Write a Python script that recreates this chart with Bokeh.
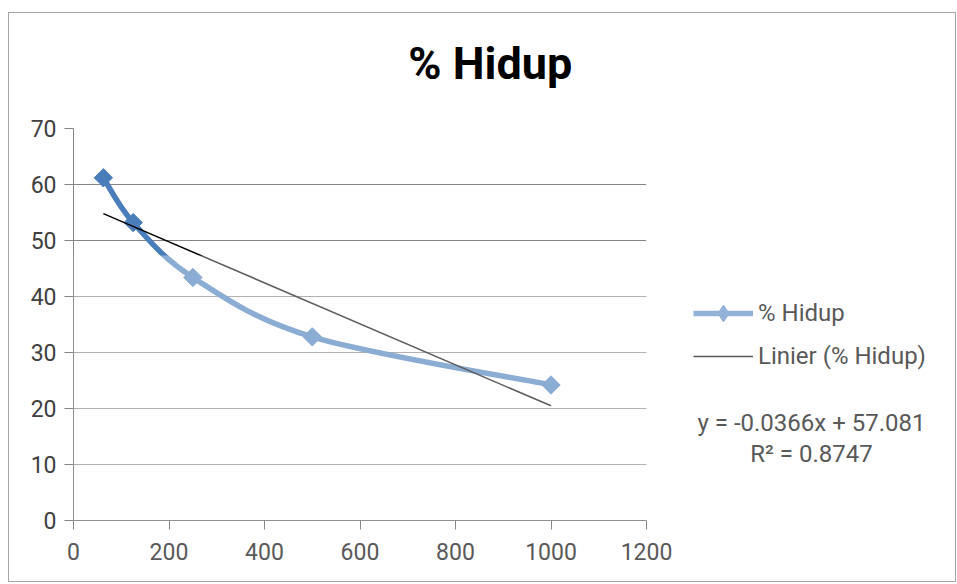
import numpy as np
from bokeh.plotting import figure
from bokeh.layouts import row, column
from bokeh.models import Label, Legend, LegendItem, BoxAnnotation, FixedTicker
from bokeh.embed import file_html
from bokeh.resources import INLINE

# ---- data ----
concentration = [62.5, 125, 250, 500, 1000]
hidup = [61.2, 53.2, 43.4, 32.8, 24.2]
trend_slope = -0.0366
trend_intercept = 57.081
trend_r2 = 0.8747
series_name = "% Hidup"
trend_name = "Linier (% Hidup)"
chart_title = "% Hidup"
x_ticks = [0, 200, 400, 600, 800, 1000, 1200]
y_ticks = [0, 10, 20, 30, 40, 50, 60, 70]

FONT = "Roboto"
BLUE = "#4a7ebb"
BLUE_LIGHT = "#93b2d7"
GRID = "#868686"
TEXT_GREY = "#595959"


def blank(fig):
    fig.grid.visible = False
    fig.outline_line_color = None
    fig.background_fill_color = "white"
    fig.border_fill_color = "white"


# ---------------- title strip ----------------
t = figure(width=946, height=100, x_range=(0, 1200), y_range=(0, 100),
           output_backend="svg", toolbar_location=None,
           x_axis_type=None, y_axis_type=None,
           min_border=0, min_border_left=64, min_border_right=309,
           min_border_top=0, min_border_bottom=0)
blank(t)
t.add_layout(Label(x=873, y=50, text=chart_title, text_align="center",
                   text_baseline="alphabetic", text_font=FONT, text_font_size="45px",
                   text_font_style="bold", text_color="#000000"))

# ---------------- main chart ----------------
p = figure(width=671, height=468, x_range=(0, 1200), y_range=(0, 70),
           output_backend="svg", toolbar_location=None,
           min_border_left=64, min_border_right=34,
           min_border_top=15, min_border_bottom=61)
p.outline_line_color = None
p.background_fill_color = "white"
p.border_fill_color = "white"

for ax in (p.xaxis[0], p.yaxis[0]):
    ax.axis_line_color = GRID
    ax.major_tick_line_color = GRID
    ax.minor_tick_line_color = None
    ax.major_tick_in = 0
    ax.major_tick_out = 9
    ax.major_label_text_font = FONT
    ax.major_label_text_font_size = "23px"
p.xaxis[0].major_label_text_color = TEXT_GREY
p.yaxis[0].major_label_text_color = "#404040"
p.xaxis[0].ticker = FixedTicker(ticks=x_ticks)
p.yaxis[0].ticker = FixedTicker(ticks=y_ticks)
p.xaxis[0].major_label_standoff = 13
p.yaxis[0].major_label_standoff = 8
p.xgrid.grid_line_color = None
p.ygrid.ticker = FixedTicker(ticks=y_ticks)
p.ygrid.grid_line_color = GRID
p.ygrid.grid_line_width = 1

# smooth series curve (Bezier segments through the points, Excel-like smoothing)
px = np.array(concentration, dtype=float)
py = np.array(hidup, dtype=float)
n = len(px)
ex = np.concatenate([[px[0]], px, [px[-1]]])
ey = np.concatenate([[py[0]], py, [py[-1]]])
cx0 = px[:-1] + (ex[2:n + 1] - ex[0:n - 1]) / 6.0
cy0 = py[:-1] + (ey[2:n + 1] - ey[0:n - 1]) / 6.0
cx1 = px[1:] - (ex[3:n + 2] - ex[1:n]) / 6.0
cy1 = py[1:] - (ey[3:n + 2] - ey[1:n]) / 6.0
p.bezier(x0=px[:-1], y0=py[:-1], x1=px[1:], y1=py[1:],
         cx0=cx0, cy0=cy0, cx1=cx1, cy1=cy1,
         line_color=BLUE, line_width=5.5)
p.scatter(concentration, hidup, marker="square", size=13, angle=np.pi / 4,
          fill_color=BLUE, line_color=BLUE)

# linear trendline from the fitted coefficients
tx = np.array([min(concentration), max(concentration)])
ty = trend_intercept + trend_slope * tx
p.line(tx, ty, line_color="#000000", line_width=1.5)

# faint watermark veil over the lower part of the chart
p.add_layout(BoxAnnotation(top=47.3, fill_color="white", fill_alpha=0.36,
                           line_color=None, level="overlay"))

# ---------------- side panel: legend + equation ----------------
# its x range continues the main chart's x scale to the right, so the series
# proxies used for the legend samples lie outside its visible frame
q = figure(width=275, height=468, x_range=(1271.2, 1847.1), y_range=(0, 70),
           output_backend="svg", toolbar_location=None,
           x_axis_type=None, y_axis_type=None,
           min_border=0, min_border_left=0, min_border_right=0,
           min_border_top=15, min_border_bottom=61)
blank(q)

lg_line = q.line(concentration, hidup, line_color=BLUE_LIGHT, line_width=5.5)
lg_mark = q.scatter(concentration, hidup, marker="diamond", size=13,
                    fill_color=BLUE_LIGHT, line_color=BLUE_LIGHT)
lg_trend = q.line(tx, ty, line_color=TEXT_GREY, line_width=1.5)

legend = Legend(items=[LegendItem(label=series_name, renderers=[lg_line, lg_mark]),
                       LegendItem(label=trend_name, renderers=[lg_trend])],
                location=(13, 143), padding=0, margin=0, spacing=1,
                glyph_width=60, glyph_height=42, label_height=42, label_standoff=5,
                label_text_font=FONT, label_text_font_size="24px",
                label_text_color=TEXT_GREY,
                border_line_color=None, background_fill_alpha=0)
q.add_layout(legend)

q.add_layout(Label(x=1545.5, y=17.5, text="y = %.4fx + %.3f" % (trend_slope, trend_intercept),
                   text_align="center", text_baseline="middle", text_font=FONT,
                   text_font_size="24px", text_color=TEXT_GREY))
q.add_layout(Label(x=1545.5, y=11.9, text="R\u00b2 = %.4f" % trend_r2,
                   text_align="center", text_baseline="middle", text_font=FONT,
                   text_font_size="24px", text_color=TEXT_GREY))

layout = column(t, row(p, q),
                styles={"border": "1px solid #a6a6a6", "margin-left": "8px",
                        "margin-top": "12px"})

open("out.html", "w").write(file_html(layout, INLINE))
